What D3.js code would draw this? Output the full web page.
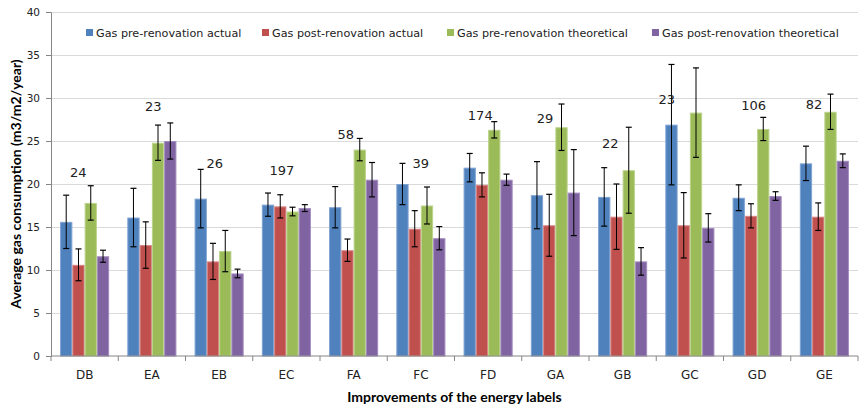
<!DOCTYPE html>
<html><head><meta charset="utf-8">
<script src="https://cdn.jsdelivr.net/npm/d3@7"></script>
<style>body{margin:0;background:#fff}svg{display:block}</style>
</head><body>
<script>
const categories = ["DB","EA","EB","EC","FA","FC","FD","GA","GB","GC","GD","GE"];
const seriesNames = ["Gas pre-renovation actual","Gas post-renovation actual","Gas pre-renovation theoretical","Gas post-renovation theoretical"];
const preActual     = [15.6,16.1,18.3,17.6,17.3,20.0,21.9,18.7,18.5,26.9,18.4,22.4];
const postActual    = [10.6,12.9,11.0,17.4,12.3,14.8,19.9,15.2,16.2,15.2,16.3,16.2];
const preTheory     = [17.8,24.8,12.2,16.8,24.0,17.5,26.3,26.6,21.6,28.3,26.4,28.4];
const postTheory    = [11.6,25.0,9.6,17.2,20.5,13.7,20.5,19.0,11.0,14.9,18.6,22.7];
const errPreActual  = [3.1,3.4,3.4,1.35,2.4,2.4,1.65,3.9,3.4,7.0,1.5,2.0];
const errPostActual = [1.85,2.7,2.1,1.35,1.3,2.1,1.4,3.6,3.8,3.8,1.4,1.6];
const errPreTheory  = [2.0,2.05,2.4,0.5,1.3,2.15,0.95,2.7,5.0,5.2,1.35,2.05];
const errPostTheory = [0.7,2.1,0.5,0.4,2.0,1.35,0.65,5.0,1.6,1.65,0.5,0.8];
const countLabels   = ["24","23","26","197","58","39","174","29","22","23","106","82"];
const countLabelY   = [21.3,29.0,22.4,21.6,25.8,22.4,28.0,27.6,24.7,29.8,29.1,29.2];
const countLabelDx  = [-0.13,0.03,-0.09,-0.09,-0.16,0.0,-0.16,-0.21,-0.25,-0.47,-0.07,-0.21];
const yTicks = [0,5,10,15,20,25,30,35,40];
const colors = ["#4F81BD","#C0504D","#9BBB59","#8064A2"];
const strokeColors = ["#7FA3D3","#D88583","#BBD38A","#A48CC0"];

const values = [preActual, postActual, preTheory, postTheory];
const errors = [errPreActual, errPostActual, errPreTheory, errPostTheory];

const W = 860, H = 407;
const m = {left:51, right:2, top:12, bottom:51};
const svg = d3.select("body").append("svg").attr("width",W).attr("height",H);
const iw = W - m.left - m.right, ih = H - m.top - m.bottom;
const g = svg.append("g").attr("transform",`translate(${m.left},${m.top})`);

const x0 = d3.scaleBand().domain(categories).range([0,iw]).paddingInner(0.27).paddingOuter(0.135);
const xBoundary = d3.scaleBand().domain(categories).range([0,iw]);
const x1 = d3.scaleBand().domain(d3.range(4)).range([0,x0.bandwidth()]);
const y = d3.scaleLinear().domain([0,40]).range([ih,0]);

// grid
g.selectAll(".grid").data(yTicks.filter(t=>t>0)).enter().append("line")
  .attr("x1",0).attr("x2",iw).attr("y1",d=>y(d)).attr("y2",d=>y(d))
  .attr("stroke","#DADADA").attr("stroke-width",1).attr("shape-rendering","crispEdges");

// bars
const groups = g.selectAll(".grp").data(categories).enter().append("g")
  .attr("transform",d=>`translate(${x0(d)},0)`);
groups.each(function(cat,i){
  const gg = d3.select(this);
  for(let s=0;s<4;s++){
    const v = values[s][i];
    gg.append("rect").attr("x",x1(s)+0.5).attr("width",x1.bandwidth()-1)
      .attr("y",y(v)+0.5).attr("height",ih - y(v)-0.5)
      .attr("fill",colors[s]).attr("stroke",strokeColors[s]).attr("stroke-width",1);
  }
  for(let s=0;s<4;s++){
    const v = values[s][i], e = errors[s][i];
    const cx = x1(s)+x1.bandwidth()/2;
    gg.append("line").attr("x1",cx).attr("x2",cx).attr("y1",y(v+e)).attr("y2",y(v-e)).attr("stroke","#000").attr("stroke-width",1);
    [v+e,v-e].forEach(t=>gg.append("line").attr("x1",cx-3).attr("x2",cx+3).attr("y1",y(t)).attr("y2",y(t)).attr("stroke","#000").attr("stroke-width",1.2));
  }
});

// count labels
g.selectAll(".cnt").data(categories).enter().append("text")
  .attr("x",(d,i)=>x0(d)+x0.bandwidth()/2 + countLabelDx[i]*x0.bandwidth())
  .attr("y",(d,i)=>y(countLabelY[i]))
  .attr("dy","0.35em").attr("text-anchor","middle")
  .attr("font-family","DejaVu Sans").attr("font-size",13).attr("fill","#222")
  .text((d,i)=>countLabels[i]);

// y axis
const yAxis = g.append("g").call(d3.axisLeft(y).tickValues(yTicks).tickSize(5).tickPadding(6));
yAxis.select(".domain").attr("stroke","#868686");
yAxis.selectAll(".tick line").attr("stroke","#868686");
yAxis.selectAll("text").attr("font-family","DejaVu Sans").attr("font-size",10.5).attr("fill","#222");

// x axis
const xa = g.append("g").attr("transform",`translate(0,${ih})`);
xa.append("line").attr("x1",0).attr("x2",iw).attr("y1",0).attr("y2",0).attr("stroke","#868686");
xa.selectAll(".bt").data(categories.concat(["_end"])).enter().append("line")
  .attr("x1",(d,i)=>i<categories.length?xBoundary(d):iw).attr("x2",(d,i)=>i<categories.length?xBoundary(d):iw)
  .attr("y1",0).attr("y2",5).attr("stroke","#868686");
const xAxis = xa.append("g").call(d3.axisBottom(x0).tickSize(0).tickPadding(14));
xAxis.select(".domain").remove();
xAxis.selectAll("text").attr("font-family","DejaVu Sans").attr("font-size",12).attr("fill","#222");

// titles
svg.append("text").attr("x",m.left+iw/2).attr("y",402).attr("text-anchor","middle")
  .attr("font-family","Lato").attr("font-weight","bold").attr("font-size",14).attr("fill","#000")
  .text("Improvements of the energy labels");
svg.append("text").attr("transform",`translate(21,${m.top+ih/2}) rotate(-90)`).attr("text-anchor","middle")
  .attr("font-family","Lato").attr("font-weight","bold").attr("font-size",14).attr("fill","#000")
  .text("Average gas consumption (m3/m2/year)");

// legend
const legX = [86,262,447,652];
const leg = svg.append("g");
seriesNames.forEach((n,s)=>{
  leg.append("rect").attr("x",legX[s]).attr("y",29).attr("width",7).attr("height",7).attr("fill",colors[s]);
  leg.append("text").attr("x",legX[s]+10).attr("y",33).attr("dy","0.35em")
    .attr("font-family","DejaVu Sans").attr("font-size",11.2).attr("fill","#222").text(n);
});
</script>
</body></html>
